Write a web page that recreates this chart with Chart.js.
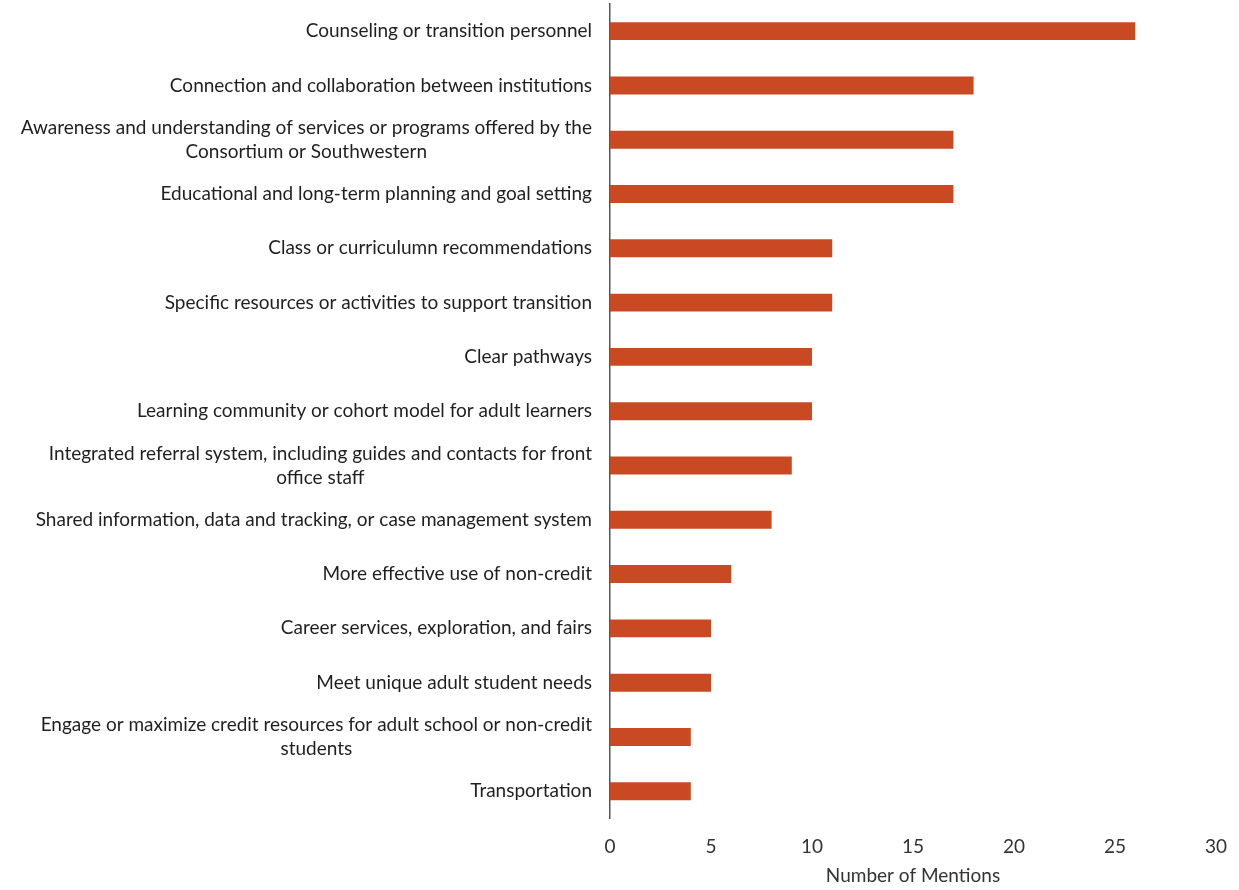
<!DOCTYPE html>
<html>
<head>
<meta charset="utf-8">
<script src="https://cdn.jsdelivr.net/npm/chart.js@4"></script>
<style>
  html, body { margin: 0; padding: 0; background: #fff; }
  #wrap { width: 1239px; height: 890px; }
</style>
</head>
<body>
<div id="wrap"><canvas id="mentionsChart" width="1239" height="890"></canvas></div>
<script>
const categories = [
  "Counseling or transition personnel",
  "Connection and collaboration between institutions",
  ["Awareness and understanding of services or programs offered by the", "Consortium or Southwestern"],
  "Educational and long-term planning and goal setting",
  "Class or curriculumn recommendations",
  "Specific resources or activities to support transition",
  "Clear pathways",
  "Learning community or cohort model for adult learners",
  ["Integrated referral system, including guides and contacts for front", "office staff"],
  "Shared information, data and tracking, or case management system",
  "More effective use of non-credit",
  "Career services, exploration, and fairs",
  "Meet unique adult student needs",
  ["Engage or maximize credit resources for adult school or non-credit", "students"],
  "Transportation"
];
const mentions = [26, 18, 17, 17, 11, 11, 10, 10, 9, 8, 6, 5, 5, 4, 4];
const xTicks = [0, 5, 10, 15, 20, 25, 30];

const FONT = "Lato, 'Open Sans', sans-serif";
const LABEL_SIZE = 19;
const LINE_H = 24;

// y labels: single lines right aligned, wrapped lines centred on each other
const centredLabels = {
  id: "centredLabels",
  afterDraw(chart) {
    const y = chart.scales.y;
    const ctx = chart.ctx;
    const rightX = y.right - 18;
    ctx.save();
    ctx.font = LABEL_SIZE + "px " + FONT;
    ctx.fillStyle = "#1f1f1f";
    ctx.textAlign = "center";
    ctx.textBaseline = "middle";
    categories.forEach((lab, i) => {
      const lines = Array.isArray(lab) ? lab : [lab];
      const widest = Math.max(...lines.map(l => ctx.measureText(l).width));
      const cx = rightX - widest / 2;
      const yc = y.getPixelForTick(i);
      lines.forEach((l, k) => {
        ctx.fillText(l, cx, yc - (lines.length - 1) * LINE_H / 2 + k * LINE_H);
      });
    });
    ctx.restore();
  }
};

new Chart(document.getElementById("mentionsChart"), {
  type: "bar",
  data: {
    labels: categories,
    datasets: [{
      data: mentions,
      backgroundColor: "#c94a22",
      categoryPercentage: 1,
      barPercentage: 0.33
    }]
  },
  options: {
    indexAxis: "y",
    responsive: false,
    animation: false,
    layout: { padding: { top: 4, right: 18, bottom: 3, left: 0 } },
    plugins: { legend: { display: false }, tooltip: { enabled: false } },
    scales: {
      x: {
        min: 0,
        max: 30,
        afterBuildTicks: s => { s.ticks = xTicks.map(v => ({ value: v })); },
        grid: { display: false, drawTicks: true, tickLength: 5 },
        border: { display: false },
        ticks: { color: "#333", font: { family: FONT, size: LABEL_SIZE }, padding: 12 },
        title: {
          display: true,
          text: "Number of Mentions",
          color: "#333",
          font: { family: FONT, size: LABEL_SIZE },
          padding: { top: -6, bottom: 0 }
        }
      },
      y: {
        afterFit: s => { s.width = 610; },
        grid: { display: false, drawTicks: false },
        border: { display: true, color: "#555", width: 1.5 },
        ticks: { display: false }
      }
    }
  },
  plugins: [centredLabels]
});
</script>
</body>
</html>
